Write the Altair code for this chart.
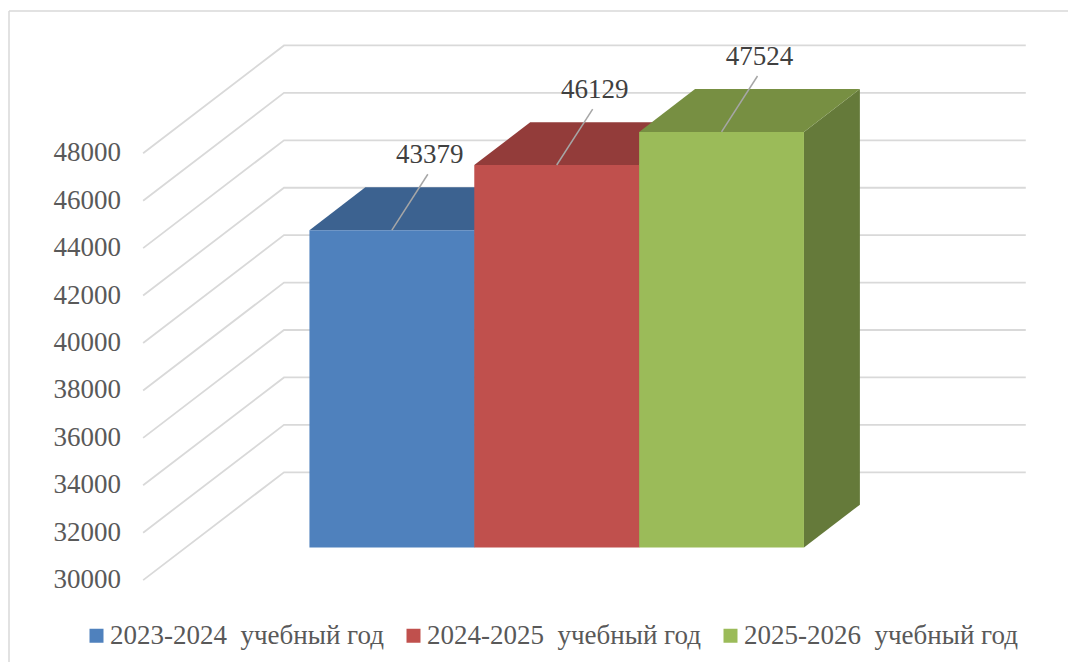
import altair as alt
import pandas as pd

# ---------------- data ----------------
YEARS = ["2023-2024\u00a0 учебный год", "2024-2025\u00a0 учебный год", "2025-2026\u00a0 учебный год"]
VALUES = [43379, 46129, 47524]
TICKS = [30000, 32000, 34000, 36000, 38000, 40000, 42000, 44000, 46000, 48000]
TICK_LABELS = [str(t) for t in TICKS]

# ---------------- styles ----------------
FRONT = ["#4F81BD", "#C0504D", "#9BBB59"]
TOP = ["#3C6290", "#933C3A", "#778F42"]
SIDE = ["#34567E", "#803533", "#657A3A"]
GRID = "#D9D9D9"
TXT = "#595959"
FONT = "'Liberation Serif', 'Times New Roman', Times, serif"
FS = 27

# ---------------- oblique 3D layout ----------------
W, H = 1060, 654
BAR_PX = 165.0            # width of one bar in px
U0_PX = 259.0             # x of u=0 on the front plane
V0_PX = 573.0             # y of floor value on the front plane
K = 0.02375               # px per value unit
FLOOR = 30000
DEPTH_X, DEPTH_Y = 141.0, 108.0
Z_FRONT, Z_BACK = 0.303, 0.70
U_LEFT, U_RIGHT = -0.75, 3.75

DU = DEPTH_X / BAR_PX
DV = DEPTH_Y / K


def px(u, z):
    return u + z * DU


def py(v, z):
    return v + z * DV


xscale = alt.Scale(domain=[-U0_PX / BAR_PX, (W - U0_PX) / BAR_PX], nice=False, zero=False)
yscale = alt.Scale(domain=[FLOOR - (H - V0_PX) / K, FLOOR + V0_PX / K], nice=False, zero=False)


def X(f):
    return alt.X(f, type="quantitative", scale=xscale, axis=None)


def Y(f):
    return alt.Y(f, type="quantitative", scale=yscale, axis=None, stack=None)


# gridlines (left wall diagonal + back wall horizontal)
grid_rows = []
for t in TICKS:
    grid_rows.append(dict(id=t, o=0, x=px(U_LEFT, 0), y=py(t, 0)))
    grid_rows.append(dict(id=t, o=1, x=px(U_LEFT, 1), y=py(t, 1)))
    grid_rows.append(dict(id=t, o=2, x=px(U_RIGHT, 1), y=py(t, 1)))
grid_df = pd.DataFrame(grid_rows)

grid = alt.Chart(grid_df).mark_line(color=GRID, strokeWidth=1.8).encode(
    x=X("x"), y=Y("y"), detail="id:N", order="o:Q"
)

lab_df = pd.DataFrame(dict(x=[px(U_LEFT, 0)] * len(TICKS), y=[py(t, 0) for t in TICKS], label=TICK_LABELS))
ylabels = alt.Chart(lab_df).mark_text(
    align="right", baseline="middle", dx=-22, font=FONT, fontSize=FS, color=TXT
).encode(x=X("x"), y=Y("y"), text="label:N")

# bar faces
top_rows, side_rows, front_rows = [], [], []
for i, (yr, v) in enumerate(zip(YEARS, VALUES)):
    zf, zb = Z_FRONT, Z_BACK
    top_rows += [
        dict(bar=i, c=TOP[i], x=px(i, zf), y=py(v, zf), y2=py(v, zf)),
        dict(bar=i, c=TOP[i], x=px(i, zb), y=py(v, zf), y2=py(v, zb)),
        dict(bar=i, c=TOP[i], x=px(i + 1, zf), y=py(v, zf), y2=py(v, zb)),
        dict(bar=i, c=TOP[i], x=px(i + 1, zb), y=py(v, zb), y2=py(v, zb)),
    ]
    side_rows += [
        dict(bar=i, c=SIDE[i], x=px(i + 1, zf), y=py(FLOOR, zf), y2=py(v, zf)),
        dict(bar=i, c=SIDE[i], x=px(i + 1, zb), y=py(FLOOR, zb), y2=py(v, zb)),
    ]
    front_rows.append(dict(year=yr, value=v, x=px(i, zf), x2=px(i + 1, zf),
                           y=py(FLOOR, zf), y2=py(v, zf)))

top_df = pd.DataFrame(top_rows)
side_df = pd.DataFrame(side_rows)
front_df = pd.DataFrame(front_rows)

sides = alt.Chart(side_df).mark_area(orient="vertical", interpolate="linear").encode(
    x=X("x"), y=Y("y"), y2="y2:Q", detail="bar:N", color=alt.Color("c:N", scale=None)
)
tops = alt.Chart(top_df).mark_area(orient="vertical", interpolate="linear").encode(
    x=X("x"), y=Y("y"), y2="y2:Q", detail="bar:N", color=alt.Color("c:N", scale=None)
)
fronts = alt.Chart(front_df).mark_rect().encode(
    x=X("x"), x2="x2:Q", y=Y("y"), y2="y2:Q",
    color=alt.Color(
        "year:N",
        scale=alt.Scale(domain=YEARS, range=FRONT),
        sort=YEARS,
        legend=alt.Legend(
            title=None, orient="none", legendX=75, legendY=614, direction="horizontal",
            symbolType="square", symbolSize=196, symbolStrokeWidth=0,
            labelFont=FONT, labelFontSize=FS, labelColor=TXT, labelLimit=0,
            labelOffset=0, columnPadding=16, padding=0,
        ),
    ),
)

# data labels with leader lines
LEAD_DX, LEAD_DY = 36.0, 56.0
lead_df = pd.DataFrame(dict(
    x=[px(i + 0.5, Z_FRONT) for i in range(len(VALUES))],
    y=[py(v, Z_FRONT) for v in VALUES],
    x2=[px(i + 0.5, Z_FRONT) + LEAD_DX / BAR_PX for i in range(len(VALUES))],
    y2=[py(v, Z_FRONT) + LEAD_DY / K for v in VALUES],
    label=[str(v) for v in VALUES],
))
leaders = alt.Chart(lead_df).mark_rule(color="#A6A6A6", strokeWidth=1.5).encode(
    x=X("x"), y=Y("y"), x2="x2:Q", y2="y2:Q"
)
dlabels = alt.Chart(lead_df).mark_text(
    align="center", baseline="middle", dx=38, dy=-75, font=FONT, fontSize=FS, color="#404040"
).encode(x=X("x"), y=Y("y"), text="label:N")

# outer frame (top and left edges visible in the picture)
one = pd.DataFrame({"a": [0]})
frame_top = alt.Chart(one).mark_rule(color=GRID, strokeWidth=1.5).encode(
    x=alt.value(1), x2=alt.value(W), y=alt.value(3)
)
frame_left = alt.Chart(one).mark_rule(color=GRID, strokeWidth=1.5).encode(
    x=alt.value(1), y=alt.value(3), y2=alt.value(H)
)

chart = alt.layer(
    frame_top, frame_left, grid, ylabels, sides, tops, fronts, leaders, dlabels
).properties(
    width=W, height=H, padding=0,
    autosize=alt.AutoSizeParams(type="fit", contains="padding"),
).configure_view(stroke=None)

chart.save("out.html", embed_options={"renderer": "svg", "actions": False})
